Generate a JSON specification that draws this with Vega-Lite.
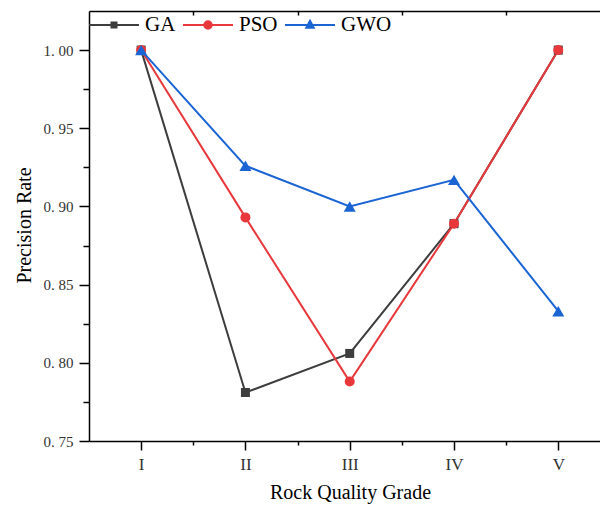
{
  "$schema": "https://vega.github.io/schema/vega-lite/v6.json",
  "width": 511,
  "height": 430,
  "autosize": "none",
  "padding": {"left": 89, "top": 11, "right": 0, "bottom": 66},
  "background": "white",
  "config": {"view": {"stroke": null}, "font": "Liberation Serif"},
  "data": {
    "values": [
      {"series": "GA", "grade": "I", "idx": 1, "rate": 1.0},
      {"series": "GA", "grade": "II", "idx": 2, "rate": 0.781},
      {"series": "GA", "grade": "III", "idx": 3, "rate": 0.806},
      {"series": "GA", "grade": "IV", "idx": 4, "rate": 0.889},
      {"series": "GA", "grade": "V", "idx": 5, "rate": 1.0},
      {"series": "PSO", "grade": "I", "idx": 1, "rate": 1.0},
      {"series": "PSO", "grade": "II", "idx": 2, "rate": 0.893},
      {"series": "PSO", "grade": "III", "idx": 3, "rate": 0.788},
      {"series": "PSO", "grade": "IV", "idx": 4, "rate": 0.889},
      {"series": "PSO", "grade": "V", "idx": 5, "rate": 1.0},
      {"series": "GWO", "grade": "I", "idx": 1, "rate": 1.0},
      {"series": "GWO", "grade": "II", "idx": 2, "rate": 0.926},
      {"series": "GWO", "grade": "III", "idx": 3, "rate": 0.9},
      {"series": "GWO", "grade": "IV", "idx": 4, "rate": 0.917},
      {"series": "GWO", "grade": "V", "idx": 5, "rate": 0.833}
    ]
  },
  "encoding": {
    "y": {
      "field": "rate",
      "type": "quantitative",
      "scale": {"domain": [0.75, 1.025], "nice": false, "zero": false},
      "axis": {
        "title": "Precision Rate",
        "values": [0.75, 0.775, 0.8, 0.825, 0.85, 0.875, 0.9, 0.925, 0.95, 0.975, 1.0],
        "labelExpr": "round(datum.value * 1000) % 50 == 0 ? replace(format(datum.value, '.2f'), '.', '. ') : ''",
        "tickSize": {"condition": {"test": "round(datum.value * 1000) % 50 == 0", "value": 10}, "value": 6},
        "grid": false,
        "domainColor": "#000",
        "domainWidth": 1.5,
        "tickColor": "#000",
        "tickWidth": 1.5,
        "labelFont": "Liberation Serif",
        "labelFontSize": 15,
        "labelColor": "#333",
        "labelPadding": 6,
        "labelFlush": false,
        "titleFont": "Liberation Serif",
        "titleFontSize": 20,
        "titleFontWeight": "normal",
        "titleColor": "#000",
        "titleAngle": -90,
        "titleX": -65,
        "titleY": 214,
        "titleAlign": "center",
        "titleBaseline": "middle"
      }
    },
    "color": {
      "field": "series",
      "type": "nominal",
      "scale": {"domain": ["GA", "PSO", "GWO"], "range": ["#3d3d3d", "#e8383c", "#1a64d4"]},
      "legend": {
        "title": null,
        "orient": "none",
        "legendX": -1,
        "legendY": -12,
        "direction": "horizontal",
        "symbolSize": 2500,
        "symbolStrokeWidth": 2,
        "labelFont": "Liberation Serif",
        "labelFontSize": 21,
        "labelColor": "#000",
        "labelOffset": 5,
        "columnPadding": 3,
        "padding": 0
      }
    }
  },
  "layer": [
    {
      "mark": {"type": "line", "strokeWidth": 2},
      "encoding": {
        "x": {
          "field": "idx",
          "type": "quantitative",
          "scale": {"domain": [0.5, 5.4], "nice": false, "zero": false},
          "axis": {
            "orient": "bottom",
            "title": "Rock Quality Grade",
            "values": [1, 1.5, 2, 2.5, 3, 3.5, 4, 4.5, 5],
            "labelExpr": "datum.value % 1 == 0 ? ['','I','II','III','IV','V'][datum.value] : ''",
            "tickSize": {"condition": {"test": "datum.value % 1 == 0", "value": 9}, "value": 4},
            "grid": false,
            "domainColor": "#000",
            "domainWidth": 1.5,
            "tickColor": "#000",
            "tickWidth": 1.5,
            "labelFont": "Liberation Serif",
            "labelFontSize": 17,
            "labelColor": "#333",
            "labelPadding": 6,
            "labelFlush": false,
            "titleFont": "Liberation Serif",
            "titleFontSize": 20,
            "titleFontWeight": "normal",
            "titleColor": "#000",
            "titleX": 261,
            "titleY": 57,
            "titleBaseline": "alphabetic"
          }
        }
      }
    },
    {
      "transform": [{"filter": "datum.series == 'GA'"}],
      "mark": {"type": "point", "filled": true, "opacity": 1, "shape": "square", "size": 81},
      "encoding": {"x": {"field": "idx", "type": "quantitative", "axis": null}}
    },
    {
      "transform": [{"filter": "datum.series == 'PSO'"}],
      "mark": {"type": "point", "filled": true, "opacity": 1, "shape": "circle", "size": 100},
      "encoding": {"x": {"field": "idx", "type": "quantitative", "axis": null}}
    },
    {
      "transform": [{"filter": "datum.series == 'GWO'"}],
      "mark": {"type": "point", "filled": true, "opacity": 1, "shape": "triangle-up", "size": 144},
      "encoding": {"x": {"field": "idx", "type": "quantitative", "axis": null}}
    },
    {
      "transform": [{"filter": "false"}],
      "mark": {"type": "point", "filled": true},
      "encoding": {
        "x": {
          "field": "idx",
          "type": "quantitative",
          "axis": {
            "orient": "top",
            "values": [1.5, 2.5, 3.5, 4.5],
            "labels": false,
            "title": null,
            "tickSize": -4,
            "grid": false,
            "domainColor": "#000",
            "domainWidth": 1.5,
            "tickColor": "#000",
            "tickWidth": 1.5
          }
        },
        "shape": {
          "field": "series",
          "type": "nominal",
          "scale": {
            "domain": ["GA", "PSO", "GWO"],
            "range": [
              "M-1,0L1,0M-0.1,-0.1H0.1V0.1H-0.1Z",
              "M-1,0L1,0M-0.15,0A0.15,0.15 0 1,0 0.15,0A0.15,0.15 0 1,0 -0.15,0Z",
              "M-1,0L1,0M0,-0.17L0.15,0.11L-0.15,0.11Z"
            ]
          },
          "legend": {
            "title": null,
            "orient": "none",
            "legendX": -1,
            "legendY": -12,
            "direction": "horizontal",
            "symbolSize": 2500,
            "symbolStrokeWidth": 2,
            "labelFont": "Liberation Serif",
            "labelFontSize": 21,
            "labelColor": "#000",
            "labelOffset": 5,
            "columnPadding": 3,
            "padding": 0
          }
        }
      }
    }
  ],
  "resolve": {"axis": {"x": "independent"}}
}
